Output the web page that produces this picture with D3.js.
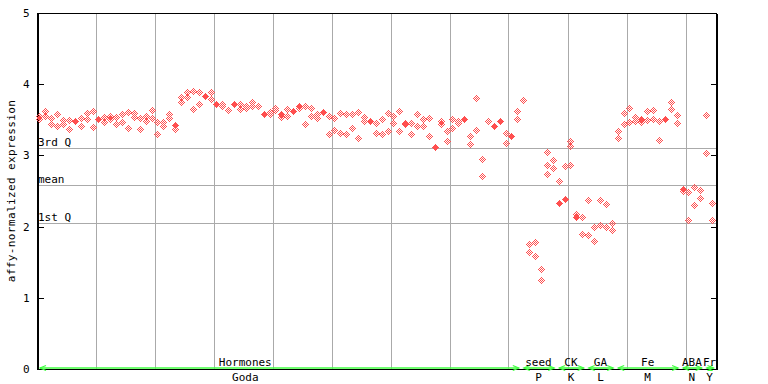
<!DOCTYPE html>
<html>
<head>
<meta charset="utf-8">
<script src="https://cdn.jsdelivr.net/npm/d3@7"></script>
<style>
  body { margin: 0; background: #fff; }
  svg text { font-family: "DejaVu Sans Mono", monospace; font-size: 11px; fill: #000; }
</style>
</head>
<body>
<svg width="768" height="384"></svg>
<script>
// expression values per sample (replicates)
var expr = [
  [3.54, 3.51], [3.62, 3.54], [3.52, 3.44], [3.57, 3.41], [3.49, 3.44],
  [3.49, 3.36], [3.47, 3.47], [3.52, 3.41], [3.59, 3.50], [3.62, 3.39],
  [3.50, 3.50], [3.53, 3.46], [3.55, 3.50], [3.53, 3.44], [3.57, 3.46],
  [3.60, 3.38], [3.59, 3.53], [3.52, 3.37], [3.55, 3.47], [3.63, 3.52],
  [3.46, 3.29], [3.46, 3.40], [3.57, 3.52], [3.42, 3.42, 3.37], [3.82, 3.75],
  [3.88, 3.82], [3.90, 3.65], [3.88, 3.71], [3.83, 3.83], [3.89, 3.78],
  [3.71, 3.71], [3.71, 3.68], [3.63], [3.71, 3.71], [3.71, 3.65],
  [3.69, 3.66], [3.74, 3.68], [3.68], [3.58, 3.58], [3.60, 3.57],
  [3.66, 3.63], [3.57, 3.57, 3.53], [3.65, 3.55], [3.62, 3.62], [3.69, 3.69, 3.66],
  [3.68, 3.43], [3.66, 3.55], [3.58, 3.52], [3.60, 3.60], [3.55, 3.30],
  [3.52, 3.35], [3.59, 3.31], [3.57, 3.30], [3.57, 3.38], [3.60, 3.24],
  [3.53, 3.47], [3.47, 3.47], [3.45, 3.31], [3.51, 3.30], [3.59, 3.33],
  [3.55, 3.45], [3.62, 3.33], [3.45, 3.43], [3.45, 3.30], [3.57, 3.41],
  [3.51, 3.41], [3.52, 3.26], [3.11, 3.11], [3.47, 3.44], [3.33, 3.19],
  [3.51, 3.38], [3.47, 3.45], [3.51, 3.51], [3.27, 3.15], [3.80, 3.35],
  [2.94, 2.71], [3.47], [3.41, 3.41], [3.47, 3.47], [3.31, 3.17],
  [3.27, 3.27], [3.61, 3.51], [3.77], [1.75, 1.64], [1.77, 1.58],
  [1.40, 1.25], [3.04, 2.86, 2.73], [2.93, 2.82], [2.64, 2.32, 2.32], [2.85, 2.38, 2.38],
  [3.20, 3.13, 2.86], [2.17, 2.13, 2.13], [2.13, 1.89], [2.37, 1.88], [1.99, 1.79],
  [2.37, 2.02], [2.31, 1.99], [2.05, 1.95], [3.34, 3.24], [3.59, 3.44],
  [3.66, 3.46], [3.53, 3.47], [3.51, 3.51, 3.46], [3.61, 3.49], [3.63, 3.51],
  [3.48, 3.21], [3.50, 3.50], [3.75, 3.65], [3.56, 3.45], [2.52, 2.52, 2.50],
  [2.48, 2.09], [2.55, 2.30], [2.51, 2.40], [3.56, 3.03], [2.33, 2.09]
];

// experiment groups along the bottom (sample boundaries)
var groupNames = ["Hormones", "seed", "CK", "GA", "Fe", "ABA", "Fr"];
var groupSubs = ["Goda", "P", "K", "L", "M", "N", "Y"];
var groupFrom = [0, 82, 88, 93, 98, 109, 113];
var groupTo = [82, 88, 93, 98, 109, 113, 115];
var groupLabelAt = [35.3, 85, 90.5, 95.5, 103.5, 111, 114];

// summary lines
var statNames = ["3rd Q", "mean", "1st Q"];
var statValues = [3.10, 2.58, 2.04];

var yTicks = [0, 1, 2, 3, 4, 5];
var gridEvery = 10;

(function () {
    var svg = d3.select("svg");
    var pLeft = 37, pRight = 716, pTop = 13, pBottom = 369;
    var red = "#ff4f4f", green = "#40ff40", grey = "#aaaaaa";

    var x = d3.scaleLinear().domain([0, expr.length]).range([pLeft, pRight - 0.5]);
    var y = d3.scaleLinear().domain([0, 5]).range([pBottom, pTop]);

    function px(v) { return Math.floor(v) + 0.5; }

    // vertical grid every 10 samples
    svg.append("g").selectAll("line")
        .data(d3.range(gridEvery, expr.length, gridEvery))
        .enter().append("line")
        .attr("x1", function (d) { return px(x(d)); })
        .attr("x2", function (d) { return px(x(d)); })
        .attr("y1", pTop)
        .attr("y2", pBottom)
        .attr("stroke", grey);

    // quartile / mean lines
    svg.append("g").selectAll("line")
        .data(statValues)
        .enter().append("line")
        .attr("x1", pLeft)
        .attr("x2", pRight)
        .attr("y1", function (d) { return px(y(d)); })
        .attr("y2", function (d) { return px(y(d)); })
        .attr("stroke", grey);

    svg.append("g").selectAll("text")
        .data(statValues)
        .enter().append("text")
        .attr("x", pLeft + 1)
        .attr("y", function (d) { return Math.floor(y(d)) - 2; })
        .text(function (d, i) { return statNames[i]; });

    // frame
    svg.append("rect")
        .attr("x", pLeft + 0.5).attr("y", pTop + 0.5)
        .attr("width", pRight - pLeft).attr("height", pBottom - pTop)
        .attr("fill", "none").attr("stroke", "#000");

    // axes
    svg.append("g")
        .attr("transform", "translate(" + (pLeft + 0.5) + ",0)")
        .call(d3.axisLeft(y).tickValues(yTicks).tickFormat(d3.format("d"))
            .tickSizeInner(-6).tickSizeOuter(0).tickPadding(8));
    svg.append("g")
        .attr("transform", "translate(" + (pRight + 0.5) + ",0)")
        .call(d3.axisRight(y).tickValues(yTicks).tickFormat("")
            .tickSizeInner(-6).tickSizeOuter(0));
    svg.selectAll(".domain, .tick line").attr("stroke", "#000").attr("shape-rendering", "crispEdges");
    svg.selectAll(".tick text")
        .style("font-family", "DejaVu Sans Mono, monospace")
        .style("font-size", "11px").attr("fill", "#000");

    svg.append("text")
        .attr("transform", "translate(15," + ((pTop + pBottom) / 2) + ") rotate(-90)")
        .attr("text-anchor", "middle")
        .style("letter-spacing", "0.4px")
        .text("affy-normalized expression");

    // markers: dotted diamond, solid when replicates coincide
    function diamond(solid) {
        var p = "";
        for (var dy = -3; dy <= 3; dy++) {
            for (var dx = -3; dx <= 3; dx++) {
                var r = Math.abs(dx) + Math.abs(dy);
                if (r <= 3 && (solid || r % 2 === 1)) {
                    p += "M" + dx + "," + dy + "h1v1h-1z";
                }
            }
        }
        return p;
    }
    var hollowPath = diamond(false), solidPath = diamond(true);

    var pts = [];
    expr.forEach(function (vals, i) {
        var counts = {};
        vals.forEach(function (v) { counts[v] = (counts[v] || 0) + 1; });
        Object.keys(counts).forEach(function (k) {
            pts.push({ i: i, v: +k, solid: counts[k] > 1 });
        });
    });

    svg.append("g").selectAll("path")
        .data(pts)
        .enter().append("path")
        .attr("transform", function (d) {
            return "translate(" + Math.floor(x(d.i + 0.5)) + "," + Math.floor(y(d.v)) + ")";
        })
        .attr("d", function (d) { return d.solid ? solidPath : hollowPath; })
        .attr("fill", red)
        .attr("shape-rendering", "crispEdges");

    // group arrows along the bottom
    var g = svg.append("g");
    groupNames.forEach(function (name, k) {
        var a = x(groupFrom[k]) + 3, b = x(groupTo[k]) - 2, yy = 368;
        g.append("line").attr("x1", a).attr("x2", b).attr("y1", yy).attr("y2", yy)
            .attr("stroke", green).attr("stroke-width", 1.6);
        g.append("path")
            .attr("d", "M" + (a + 6) + "," + (yy - 2.5) + "L" + a + "," + yy + "L" + (a + 6) + "," + (yy + 2.5)
                + "M" + (b - 6) + "," + (yy - 2.5) + "L" + b + "," + yy + "L" + (b - 6) + "," + (yy + 2.5))
            .attr("fill", "none").attr("stroke", green).attr("stroke-width", 1.2);
        var cx = x(groupLabelAt[k]);
        g.append("text").attr("x", cx).attr("y", 366).attr("text-anchor", "middle").text(name);
        g.append("text").attr("x", cx).attr("y", 381).attr("text-anchor", "middle").text(groupSubs[k]);
    });
})();
</script>
</body>
</html>
